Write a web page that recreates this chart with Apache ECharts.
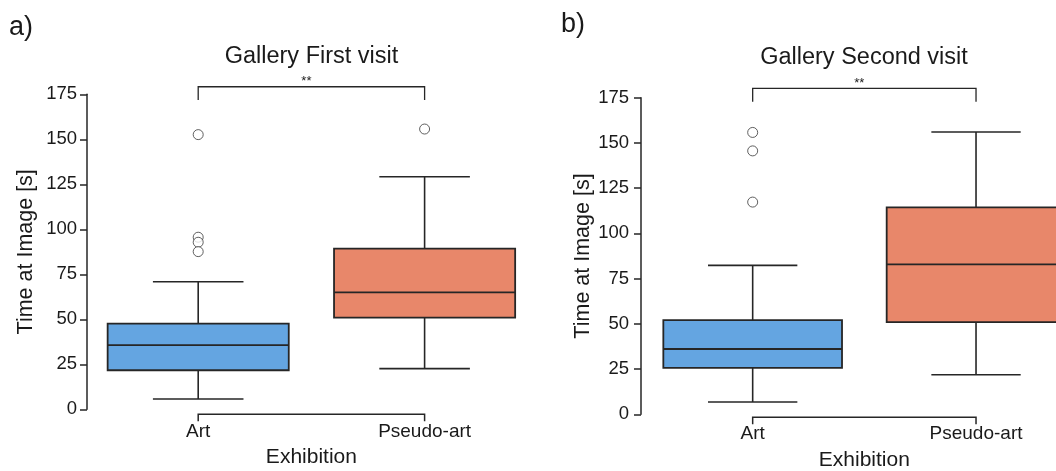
<!DOCTYPE html>
<html><head><meta charset="utf-8">
<script src="https://cdn.jsdelivr.net/npm/echarts@6/dist/echarts.min.js"></script>
<style>html,body{margin:0;padding:0;background:#fff;overflow:hidden;width:1056px;height:471px}#c{width:1090px;height:471px}</style>
</head><body><div id="c"></div>
<script>
// ---- data ----
const categories = ['Art', 'Pseudo-art'];
const yTicks = [0, 25, 50, 75, 100, 125, 150, 175];
// [lower whisker, Q1, median, Q3, upper whisker]
const firstArt = [5.7, 21.7, 35.7, 47.6, 70.9];
const firstPseudo = [22.6, 50.9, 65.0, 89.3, 129.2];
const firstArtOutliers = [152.6, 95.6, 92.8, 87.6];
const firstPseudoOutliers = [155.7];
const secondArt = [6.8, 25.7, 36.1, 52.1, 82.3];
const secondPseudo = [21.9, 51.0, 82.9, 114.4, 156.0];
const secondArtOutliers = [155.8, 145.6, 117.3];
const secondPseudoOutliers = [];
const titles = ['Gallery First visit', 'Gallery Second visit'];
const panelLabels = ['a)', 'b)'];
const significance = ['**', '**'];
const yName = 'Time at Image [s]';
const xName = 'Exhibition';

// ---- styles ----
const FONT = '"Liberation Sans", Arial, Helvetica, sans-serif';
const colors = ['#64a5e1', '#e8876a'];
const edge = '#262626';
const txt = '#1a1a1a';

function renderBox(params, api) {
  const ci = api.value(0);
  const bw = api.size([1, 0])[0] * 0.8;
  const half = bw / 2;
  const p = [1, 2, 3, 4, 5].map(i => api.coord([ci, api.value(i)]));
  const cx = p[0][0];
  const ls = { stroke: edge, lineWidth: 1.6 };
  return { type: 'group', children: [
    { type: 'line', shape: { x1: cx, y1: p[0][1], x2: cx, y2: p[1][1] }, style: ls },
    { type: 'line', shape: { x1: cx, y1: p[3][1], x2: cx, y2: p[4][1] }, style: ls },
    { type: 'line', shape: { x1: cx - bw / 4, y1: p[0][1], x2: cx + bw / 4, y2: p[0][1] }, style: ls },
    { type: 'line', shape: { x1: cx - bw / 4, y1: p[4][1], x2: cx + bw / 4, y2: p[4][1] }, style: ls },
    { type: 'rect', shape: { x: cx - half, y: p[3][1], width: bw, height: p[1][1] - p[3][1] },
      style: { fill: colors[ci], stroke: edge, lineWidth: 1.8 } },
    { type: 'line', shape: { x1: cx - half, y1: p[2][1], x2: cx + half, y2: p[2][1] }, style: { stroke: edge, lineWidth: 1.8 } }
  ]};
}

function sigBracket(top, leg, label) {
  return function (params, api) {
    const a = api.coord([0, top]), b = api.coord([1, top]);
    const l = api.coord([0, leg]);
    return { type: 'group', children: [
      { type: 'polyline', shape: { points: [[a[0], l[1]], [a[0], a[1]], [b[0], a[1]], [b[0], l[1]]] },
        style: { stroke: edge, lineWidth: 1.3, fill: null } },
      { type: 'text', x: (a[0] + b[0]) / 2 - 5, y: a[1] + 1,
        style: { text: label, font: '13px ' + FONT, fill: txt, textAlign: 'center', textVerticalAlign: 'bottom', align: 'center', verticalAlign: 'bottom' } }
    ]};
  };
}

function axisBracket(d1, d2) {
  return function (params, api) {
    const a = api.coord([0, 0]), b = api.coord([1, 0]);
    const y1 = a[1] + d1, y2 = a[1] + d2;
    return { type: 'polyline', shape: { points: [[a[0], y2], [a[0], y1], [b[0], y1], [b[0], y2]] },
      style: { stroke: edge, lineWidth: 1.5, fill: null } };
  };
}

function outlierData(ci, arr) { return arr.map(v => [ci, v]); }

function xAx(gi, margin, nameGap) {
  return {
    type: 'category', gridIndex: gi, data: categories,
    axisLine: { show: false }, axisTick: { show: false }, splitLine: { show: false },
    axisLabel: { margin: margin, fontSize: 19, color: txt, fontFamily: FONT },
    name: xName, nameLocation: 'middle', nameGap: nameGap,
    nameTextStyle: { fontSize: 21, color: txt, fontFamily: FONT }
  };
}
function yAx(gi, offset, margin, nameGap) {
  return {
    type: 'value', gridIndex: gi, min: yTicks[0], max: yTicks[yTicks.length - 1],
    interval: yTicks[1] - yTicks[0], offset: offset,
    axisLine: { show: true, lineStyle: { color: edge, width: 1.5 } },
    axisTick: { show: true, length: 7, lineStyle: { color: edge, width: 1.5 } },
    splitLine: { show: false },
    axisLabel: { margin: margin, fontSize: 18.5, color: txt, fontFamily: FONT },
    name: yName, nameLocation: 'middle', nameGap: nameGap,
    nameTextStyle: { fontSize: 21.5, color: txt, fontFamily: FONT }
  };
}

const panels = [
  { box: [firstArt, firstPseudo], out: [firstArtOutliers, firstPseudoOutliers], sig: [179.2, 171.8], ax: [5, 12] },
  { box: [secondArt, secondPseudo], out: [secondArtOutliers, secondPseudoOutliers], sig: [180.1, 172.7], ax: [3, 10] }
];

const series = [];
panels.forEach((p, gi) => {
  series.push({
    type: 'custom', xAxisIndex: gi, yAxisIndex: gi, clip: false,
    renderItem: renderBox,
    data: p.box.map((b, ci) => [ci].concat(b))
  });
  series.push({
    type: 'scatter', xAxisIndex: gi, yAxisIndex: gi, symbol: 'circle', symbolSize: 10,
    itemStyle: { color: '#ffffff', borderColor: '#3a3a3a', borderWidth: 1 },
    data: outlierData(0, p.out[0]).concat(outlierData(1, p.out[1]))
  });
  series.push({
    type: 'custom', xAxisIndex: gi, yAxisIndex: gi, clip: false,
    renderItem: sigBracket(p.sig[0], p.sig[1], significance[gi]), data: [[0, 0]]
  });
  series.push({
    type: 'custom', xAxisIndex: gi, yAxisIndex: gi, clip: false,
    renderItem: axisBracket(p.ax[0], p.ax[1]), data: [[0, 0]]
  });
});

const chart = echarts.init(document.getElementById('c'), null, { renderer: 'canvas' });
chart.setOption({
  animation: false,
  backgroundColor: '#ffffff',
  grid: [
    { left: 85, top: 94.3, width: 452.8, height: 315, outerBoundsMode: 'none', containLabel: false },
    { left: 641, top: 97.7, width: 446.7, height: 316.6, outerBoundsMode: 'none', containLabel: false }
  ],
  xAxis: [xAx(0, 13, 37), xAx(1, 10, 35)],
  yAxis: [yAx(0, -2, 10, 50), yAx(1, 0, 12, 45)],
  graphic: [
    { type: 'text', x: 311.5, y: 57, style: { text: titles[0], font: '23.5px ' + FONT, fill: txt, textAlign: 'center', textVerticalAlign: 'middle' } },
    { type: 'text', x: 864, y: 57.5, style: { text: titles[1], font: '23.5px ' + FONT, fill: txt, textAlign: 'center', textVerticalAlign: 'middle' } },
    { type: 'text', x: 9, y: 28, style: { text: panelLabels[0], font: '27px ' + FONT, fill: txt, textAlign: 'left', textVerticalAlign: 'middle' } },
    { type: 'text', x: 561, y: 25, style: { text: panelLabels[1], font: '27px ' + FONT, fill: txt, textAlign: 'left', textVerticalAlign: 'middle' } }
  ],
  series: series
});
</script>
</body></html>
